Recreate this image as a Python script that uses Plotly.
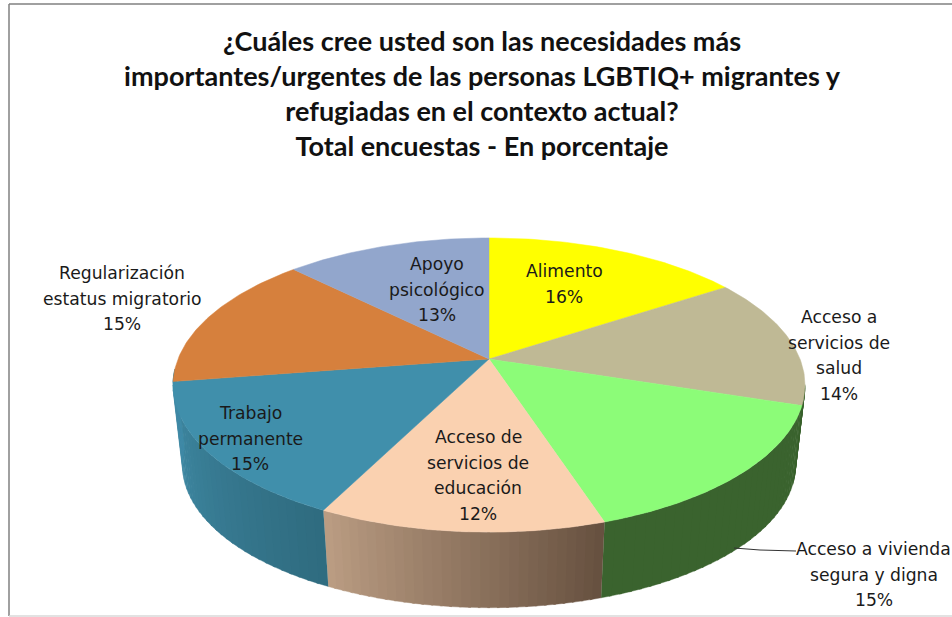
import math
import plotly.graph_objects as go

# ---- data ----
categories = ["Alimento", "Acceso a servicios de salud", "Acceso a vivienda segura y digna",
              "Acceso de servicios de educación", "Trabajo permanente",
              "Regularización estatus migratorio", "Apoyo psicológico"]
values = [15.7, 14.3, 15.0, 12.4, 15.15, 14.95, 12.5]
colors = ["#ffff00", "#bfb995", "#8cfc78", "#fad1b0", "#408fab", "#d6803d", "#92a6cc"]
title_lines = ["¿Cuáles cree usted son las necesidades más",
               "importantes/urgentes de las personas LGBTIQ+ migrantes y",
               "refugiadas en el contexto actual?",
               "Total encuestas - En porcentaje"]
label_lines = [["Alimento"], ["Acceso a", "servicios de", "salud"],
               ["Acceso a vivienda", "segura y digna"],
               ["Acceso de", "servicios de", "educación"], ["Trabajo", "permanente"],
               ["Regularización", "estatus migratorio"], ["Apoyo", "psicológico"]]
label_pos = [(564, 271), (839, 317), (873.5, 549), (478, 437), (250, 413), (122, 273), (437, 264)]
# wall shade at slice start / end of the visible rim
wall_shades = {1: ("#3a632e", "#3a632e"), 2: ("#3a632e", "#3a632e"),
               3: ("#66503f", "#bb9d83"), 4: ("#2f6b7f", "#408ba6"),
               5: ("#408ba6", "#408ba6")}

# ---- projection of the tilted disc ----
CX, CY, R, H, K = 489, 359, 311, 142.5, 0.177
R2, H2, CY2 = 0.97 * 311, 138, 440


def top(a):
    X, Y = math.sin(a), -math.cos(a)
    s = 1 / (1 - K * Y)
    return CX + R * X * s, CY + H * Y * s


def bottom(a):
    X, Y = math.sin(a), -math.cos(a)
    s = 1 / (1 - K * Y)
    return CX + R2 * X * s, CY2 + H2 * Y * s


def mix(c1, c2, t):
    p = [int(c1[i:i + 2], 16) for i in (1, 3, 5)]
    q = [int(c2[i:i + 2], 16) for i in (1, 3, 5)]
    return "rgb(%d,%d,%d)" % tuple(round(a + (b - a) * t) for a, b in zip(p, q))


fig = go.Figure()
total = sum(values)
edges = [0]
for v in values:
    edges.append(edges[-1] + v / total * 2 * math.pi)

# side wall, split in thin bands for the shading
VIS0, VIS1 = math.radians(100), math.radians(266)
for i, (c1, c2) in wall_shades.items():
    a0, a1 = max(edges[i], VIS0), min(edges[i + 1], VIS1)
    if a1 <= a0:
        continue
    n = 30
    for j in range(n):
        s0 = a0 + (a1 - a0) * j / n
        s1 = a0 + (a1 - a0) * (j + 1.25) / n
        s1 = min(s1, a1)
        m = 6
        ang = [s0 + (s1 - s0) * q / m for q in range(m + 1)]
        pts = [top(q) for q in ang] + [bottom(q) for q in reversed(ang)]
        col = mix(c1, c2, (j + .5) / n)
        fig.add_trace(go.Scatter(x=[p[0] for p in pts], y=[p[1] for p in pts], mode="lines",
                                 fill="toself", fillcolor=col, line=dict(width=0.4, color=col),
                                 hoverinfo="skip", showlegend=False))

# top face
for i, name in enumerate(categories):
    n = 60
    ang = [edges[i] + (edges[i + 1] - edges[i]) * q / n for q in range(n + 1)]
    pts = [(CX, CY)] + [top(q) for q in ang] + [(CX, CY)]
    fig.add_trace(go.Scatter(x=[p[0] for p in pts], y=[p[1] for p in pts], mode="lines",
                             fill="toself", fillcolor=colors[i], line=dict(width=0.5, color=colors[i]),
                             name=name, hoverinfo="name", showlegend=False))

# leader line
fig.add_trace(go.Scatter(x=[734, 760, 796], y=[548, 550, 551], mode="lines",
                         line=dict(color="#333333", width=1), hoverinfo="skip", showlegend=False))

# labels
LINE = 25.6
anns = []
for lines, v, (x, y) in zip(label_lines, values, label_pos):
    for k, t in enumerate(lines + [f"{int(v + 0.5)}%"]):
        anns.append(dict(x=x, y=y + k * LINE, text=t, showarrow=False, xanchor="center", yanchor="middle",
                         font=dict(family="DejaVu Sans", size=17.2, color="#1a1a1a")))

shapes = [
    dict(type="line", x0=9, x1=9, y0=4, y1=616, line=dict(color="#808080", width=1.5)),
    dict(type="line", x0=9, x1=952, y0=4, y1=4, line=dict(color="#808080", width=1.5)),
    dict(type="line", x0=9, x1=952, y0=616, y1=616, line=dict(color="#d9d9d9", width=1.5)),
]

fig.update_layout(
    width=952, height=617, margin=dict(l=0, r=0, t=0, b=0), autosize=False,
    paper_bgcolor="white", plot_bgcolor="white", showlegend=False,
    xaxis=dict(range=[0, 952], visible=False, fixedrange=True),
    yaxis=dict(range=[617, 0], visible=False, fixedrange=True),
    shapes=shapes, annotations=anns,
    title=dict(text="<b>" + "<br>".join(title_lines) + "</b>", x=482 / 952, xanchor="center",
               y=1 - 51 / 617, yanchor="top",
               font=dict(family="Lato", size=27, color="#111111")),
)
fig.write_html("out.html", config={"displayModeBar": False},
               post_script="document.body.style.margin='0';")
